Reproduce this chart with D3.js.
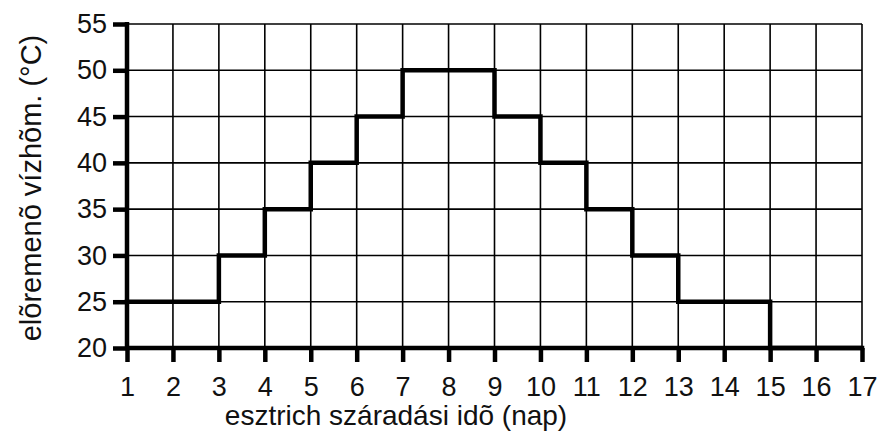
<!DOCTYPE html>
<html>
<head>
<meta charset="utf-8">
<script src="https://cdn.jsdelivr.net/npm/d3@7"></script>
<style>
  body { margin: 0; background: #fff; }
  text { font-family: "Liberation Sans", Arial, sans-serif; fill: #111; }
</style>
</head>
<body>
<svg width="889" height="433"></svg>
<script>
// napok es hofok (lepcsos felfutes)
var days = [1, 2, 3, 4, 5, 6, 7, 8, 9, 10, 11, 12, 13, 14, 15, 16, 17];
var temps = [25, 25, 30, 35, 40, 45, 50, 50, 45, 40, 35, 30, 25, 25, 20, 20, 20];
var yTicks = [20, 25, 30, 35, 40, 45, 50, 55];
var xTitle = 'esztrich száradási idõ (nap)';
var yTitle = 'elõremenõ vízhõm. (°C)';

var svg = d3.select('svg');
var x = d3.scaleLinear().domain([1, 17]).range([127, 862]);
var y = d3.scaleLinear().domain([20, 55]).range([348, 24]);

// racs
var grid = svg.append('g');
grid.selectAll('line.v').data(days).enter().append('line')
    .attr('x1', d => x(d)).attr('x2', d => x(d))
    .attr('y1', y(20)).attr('y2', y(55))
    .attr('stroke', '#000').attr('stroke-width', 1.6);
grid.selectAll('line.h').data(yTicks).enter().append('line')
    .attr('x1', x(1)).attr('x2', x(17))
    .attr('y1', d => y(d)).attr('y2', d => y(d))
    .attr('stroke', '#000').attr('stroke-width', 1.6);

// tengelyek
var yAxis = d3.axisLeft(y).tickValues(yTicks).tickSize(14).tickPadding(6);
var xAxis = d3.axisBottom(x).tickValues(days).tickSize(14).tickPadding(15);

var gy = svg.append('g').attr('transform', 'translate(' + x(1) + ',0)').call(yAxis);
var gx = svg.append('g').attr('transform', 'translate(0,' + y(20) + ')').call(xAxis);

[gx, gy].forEach(g => {
    g.select('.domain').attr('stroke', '#000').attr('stroke-width', 4.5);
    g.selectAll('.tick line').attr('stroke', '#000').attr('stroke-width', 4.5);
    g.selectAll('.tick text').style('font-size', '27px')
        .style('font-family', '"Liberation Sans", Arial, sans-serif').attr('fill', '#111');
});
gx.select('.domain').attr('d', 'M' + x(1) + ',0H' + x(17));
gy.select('.domain').attr('d', 'M0,' + y(20) + 'V' + (y(55) - 2));

// lepcsos gorbe
var line = d3.line()
    .x((d, i) => x(days[i]))
    .y(d => y(d))
    .curve(d3.curveStepAfter);
svg.append('path')
    .datum(temps)
    .attr('d', line)
    .attr('fill', 'none')
    .attr('stroke', '#000')
    .attr('stroke-width', 4.5)
    .attr('stroke-linejoin', 'miter')
    .attr('stroke-linecap', 'square');

// cimek
svg.append('text')
    .attr('x', 396)
    .attr('y', 425)
    .attr('text-anchor', 'middle')
    .style('font-size', '28px')
    .attr('fill', '#222')
    .text(xTitle);
svg.append('text')
    .attr('transform', 'translate(41,188) rotate(-90)')
    .attr('text-anchor', 'middle')
    .style('font-size', '29px')
    .attr('fill', '#222')
    .text(yTitle);
</script>
</body>
</html>
